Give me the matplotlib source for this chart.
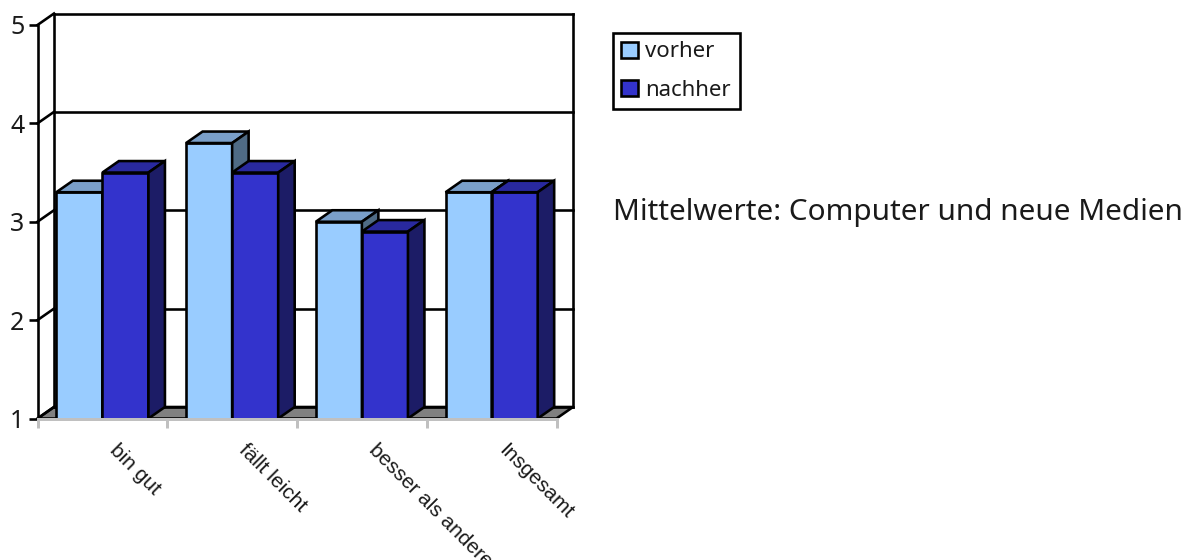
"""
Mean values before and after, drawn as a 3D-look bar chart.
"""

from matplotlib import pyplot as plt
from matplotlib.patches import Polygon, Rectangle
import numpy as np

categories = ["bin gut", "fällt leicht", "besser als andere", "Insgesamt"]
vorher = [3.3, 3.8, 3.0, 3.3]
nachher = [3.5, 3.5, 2.9, 3.3]
y_ticks = [1, 2, 3, 4, 5]
series_names = ["vorher", "nachher"]
side_note = "Mittelwerte: Computer und neue Medien"

WIDTH, HEIGHT = 1194, 560
LEFT, RIGHT, BOTTOM, TOP = 37.5, 556.5, 418.5, 25.0
DX = 16.5 / ((RIGHT - LEFT) / 4)
DY = 11.5 / ((BOTTOM - TOP) / 4)
BAR = 0.355
PX = 0.72
FONT = "Noto Sans"
LABEL_FONT = "Liberation Sans"
INK = "#1a1a1a"


def _box(ax, x, value, colors):
    front, top, side = colors
    style = {"edgecolor": "black", "linewidth": 2.6 * PX, "joinstyle": "miter", "clip_on": False, "zorder": 3}
    ax.add_patch(Polygon([(x, 1), (x + BAR, 1), (x + BAR, value), (x, value)], facecolor=front, **style))
    ax.add_patch(
        Polygon(
            [(x, value), (x + DX, value + DY), (x + BAR + DX, value + DY), (x + BAR, value)],
            facecolor=top,
            **style,
        )
    )
    ax.add_patch(
        Polygon(
            [(x + BAR, 1), (x + BAR + DX, 1 + DY), (x + BAR + DX, value + DY), (x + BAR, value)],
            facecolor=side,
            **style,
        )
    )


def _main():
    fig = plt.figure(figsize=(WIDTH / 100, HEIGHT / 100), dpi=100)
    ax = fig.add_axes(
        [LEFT / WIDTH, 1 - BOTTOM / HEIGHT, (RIGHT - LEFT) / WIDTH, (BOTTOM - TOP) / HEIGHT]
    )
    n = len(categories)
    ax.set_xlim(0, n)
    ax.set_ylim(y_ticks[0], y_ticks[-1])
    ax.patch.set_visible(False)

    # Floor and walls
    lw = 2.6 * PX
    ax.add_patch(
        Polygon(
            [(0, 1), (DX, 1 + DY), (n + DX, 1 + DY), (n, 1)],
            facecolor="#808080",
            edgecolor="black",
            linewidth=lw,
            clip_on=False,
            zorder=1,
        )
    )
    ax.plot([DX, DX], [1 + DY, 5 + DY], color="black", lw=lw, clip_on=False, zorder=2)
    ax.plot([n + DX, n + DX], [1 + DY, 5 + DY], color="black", lw=lw, clip_on=False, zorder=2)
    for tick in y_ticks:
        ax.plot([DX, n + DX], [tick + DY, tick + DY], color="black", lw=lw, clip_on=False, zorder=2)
        ax.plot([0, DX], [tick, tick + DY], color="black", lw=lw, clip_on=False, zorder=2)

    # Bars
    margin = (1 - 2 * BAR) / 2
    for i in range(n):
        x = i + margin
        _box(ax, x, vorher[i], ("#99CCFF", "#7A9FC9", "#4F6B85"))
        _box(ax, x + BAR, nachher[i], ("#3333CC", "#29299F", "#1C1C66"))

    # Axes
    for name in ["top", "right"]:
        ax.spines[name].set_visible(False)
    ax.spines["left"].set_linewidth(lw)
    ax.spines["bottom"].set_linewidth(3 * PX)
    ax.spines["bottom"].set_color("#C0C0C0")
    ax.spines["bottom"].set_zorder(4)
    ax.set_xticks(np.arange(n + 1))
    ax.set_xticklabels([])
    ax.set_yticks(y_ticks)
    ax.set_yticklabels([str(t) for t in y_ticks], fontfamily=FONT, fontsize=18, color=INK)
    ax.tick_params(axis="x", length=9 * PX, width=3 * PX, color="#C0C0C0")
    ax.tick_params(axis="y", length=9 * PX, width=lw, color="black", pad=3)

    for i, label in enumerate(categories):
        ax.annotate(
            label,
            (i + 0.5, 1),
            xytext=(10, -29),
            textcoords="offset pixels",
            rotation=-45,
            rotation_mode="anchor",
            ha="left",
            va="center",
            fontfamily=LABEL_FONT,
            fontsize=15,
            color=INK,
            annotation_clip=False,
        )

    handles = [
        Rectangle((0, 0), 1, 1, facecolor="#99CCFF", edgecolor="black", linewidth=lw),
        Rectangle((0, 0), 1, 1, facecolor="#3333CC", edgecolor="black", linewidth=lw),
    ]
    legend = fig.legend(
        handles,
        series_names,
        loc="upper left",
        bbox_to_anchor=(613 / WIDTH, 1 - 33 / HEIGHT),
        borderaxespad=0,
        fancybox=False,
        framealpha=1,
        edgecolor="black",
        prop={"family": FONT, "size": 16},
        handlelength=0.75,
        handleheight=0.75,
        handletextpad=0.33,
        labelspacing=0.77,
        borderpad=0.38,
        labelcolor=INK,
    )
    legend.get_frame().set_linewidth(lw)

    fig.text(613 / WIDTH, 1 - 220 / HEIGHT, side_note, fontfamily=FONT, fontsize=21.4, color=INK, va="baseline")

    fig.savefig("out.png", dpi=100)


if __name__ == "__main__":
    _main()
